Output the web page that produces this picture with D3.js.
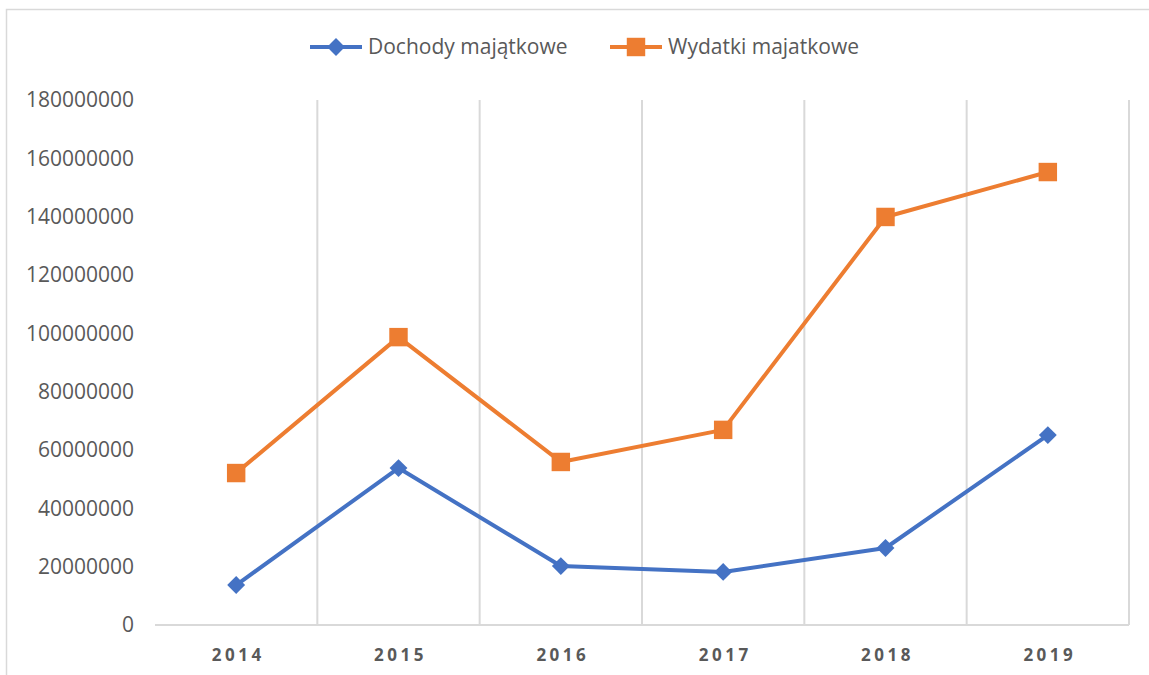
<!DOCTYPE html>
<html lang="pl">
<head>
<meta charset="utf-8">
<script src="https://d3js.org/d3.v7.min.js"></script>
<style>
  body { margin: 0; background: #fff; }
  text { font-family: "Open Sans", "Noto Sans", sans-serif; fill: #595959; }
</style>
</head>
<body>
<div id="chart"></div>
<script>
// data
const years = ["2014", "2015", "2016", "2017", "2018", "2019"];
const dochody = [13700000, 53800000, 20200000, 18200000, 26400000, 65100000];
const wydatki = [52100000, 98700000, 55900000, 66900000, 139900000, 155300000];
const yTicks = [0, 20000000, 40000000, 60000000, 80000000, 100000000, 120000000, 140000000, 160000000, 180000000];
const seriesNames = ["Dochody majątkowe", "Wydatki majatkowe"];
const colors = ["#4472C4", "#ED7D31"];

const W = 1149, H = 675;
const margin = {top: 100, right: 20, bottom: 50, left: 155};
const width = 1129 - margin.left, height = 625 - margin.top;

const svg = d3.select("#chart").append("svg")
  .attr("width", W).attr("height", H);

// outer chart border
svg.append("rect")
  .attr("x", 6.5).attr("y", 9.5)
  .attr("width", W + 10).attr("height", H + 10)
  .attr("fill", "none").attr("stroke", "#d9d9d9").attr("stroke-width", 1.5);

const g = svg.append("g")
  .attr("transform", "translate(" + margin.left + "," + margin.top + ")");

const x = d3.scaleBand().domain(years).range([0, width]);
const y = d3.scaleLinear().domain([0, 180000000]).range([height, 0]);

// vertical gridlines at category boundaries
const bounds = years.map(d => x(d)).concat([width]);
g.selectAll(".vgrid").data(bounds.slice(1)).enter().append("line")
  .attr("x1", d => d).attr("x2", d => d)
  .attr("y1", 0).attr("y2", height)
  .attr("stroke", "#d9d9d9").attr("stroke-width", 2);

// bottom axis line
g.append("line")
  .attr("x1", 0).attr("x2", width)
  .attr("y1", height).attr("y2", height)
  .attr("stroke", "#d9d9d9").attr("stroke-width", 2);

// y tick labels
g.selectAll(".ylab").data(yTicks).enter().append("text")
  .attr("x", -21).attr("y", d => y(d))
  .attr("dy", "0.35em")
  .attr("text-anchor", "end")
  .style("font-size", "21px")
  .text(d => d);

// x labels
g.selectAll(".xlab").data(years).enter().append("text")
  .attr("x", d => x(d) + x.bandwidth() / 2 + 2)
  .attr("y", height + 36)
  .attr("text-anchor", "middle")
  .style("font-size", "17px")
  .style("font-weight", "bold")
  .style("letter-spacing", "3.5px")
  .text(d => d);

const line = d3.line()
  .x((d, i) => x(years[i]) + x.bandwidth() / 2)
  .y(d => y(d));

const diamondShape = d3.symbol().type(d3.symbolSquare).size(160);
const squareShape = d3.symbol().type(d3.symbolSquare).size(340);

[dochody, wydatki].forEach((vals, s) => {
  g.append("path")
    .datum(vals)
    .attr("fill", "none")
    .attr("stroke", colors[s])
    .attr("stroke-width", 4)
    .attr("stroke-linejoin", "round")
    .attr("d", line);
  g.selectAll(".m" + s).data(vals).enter().append("path")
    .attr("d", s === 0 ? diamondShape : squareShape)
    .attr("transform", (d, i) => "translate(" + (x(years[i]) + x.bandwidth() / 2) + "," + y(d) + ")" + (s === 0 ? " rotate(45)" : ""))
    .attr("fill", colors[s]);
});

// legend
const legend = svg.append("g");
const legX = [310, 610];
seriesNames.forEach((name, s) => {
  const lg = legend.append("g").attr("transform", "translate(" + legX[s] + ",47)");
  lg.append("line").attr("x1", 0).attr("x2", 52).attr("y1", 0).attr("y2", 0)
    .attr("stroke", colors[s]).attr("stroke-width", 4);
  lg.append("path")
    .attr("d", s === 0 ? diamondShape : squareShape)
    .attr("transform", "translate(26,0)" + (s === 0 ? " rotate(45)" : ""))
    .attr("fill", colors[s]);
  lg.append("text").attr("x", 58).attr("y", 0).attr("dy", "0.35em")
    .style("font-size", "21px")
    .text(name);
});
</script>
</body>
</html>
